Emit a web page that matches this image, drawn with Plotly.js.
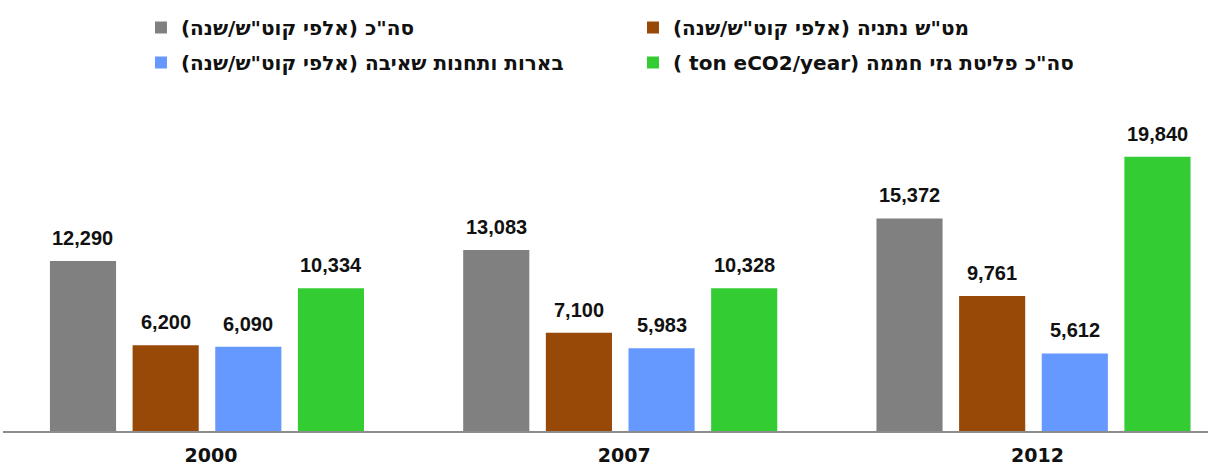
<!DOCTYPE html>
<html>
<head>
<meta charset="utf-8">
<script src="https://cdn.plot.ly/plotly-3.0.1.min.js"></script>
<style>
  html, body { margin: 0; padding: 0; background: #ffffff; }
  #chart { width: 1208px; height: 470px; }
</style>
</head>
<body>
<div id="chart"></div>
<script>
// ---- data ----
var years = ['2000', '2007', '2012'];
var seriesNames = [
  'סה"כ (אלפי קוט"ש/שנה)',
  'מט"ש נתניה (אלפי קוט"ש/שנה)',
  'בארות ותחנות שאיבה (אלפי קוט"ש/שנה)',
  'סה"כ פליטת גזי חממה (ton eCO2/year )'
];
var totalKwh = [12290, 13083, 15372];
var netanyaPlant = [6200, 7100, 9761];
var wellsPumping = [6090, 5983, 5612];
var ghgEmissions = [10334, 10328, 19840];

// ---- style ----
var colors = ['#808080', '#984807', '#6699FF', '#33CC33'];
var legendIds = ['legend', 'legend', 'legend2', 'legend2'];
var seriesValues = [totalKwh, netanyaPlant, wellsPumping, ghgEmissions];

var RLE = '\u202B', PDF = '\u202C';
var barPitchPx = 82.7;

var traces = seriesValues.map(function (vals, i) {
  return {
    type: 'bar',
    x: years,
    y: vals,
    name: RLE + seriesNames[i] + PDF,
    legend: legendIds[i],
    marker: { color: colors[i] },
    hoverinfo: 'skip'
  };
});

function fmt(v) { return v.toLocaleString('en-US'); }

var annotations = [];
seriesValues.forEach(function (vals, i) {
  vals.forEach(function (v, j) {
    annotations.push({
      x: j, y: v, xref: 'x', yref: 'y',
      text: fmt(v), showarrow: false,
      xanchor: 'center', yanchor: 'bottom',
      xshift: (i - 1.5) * barPitchPx, yshift: 10,
      font: { family: 'Liberation Sans, Arial, sans-serif', size: 20, color: '#111111', weight: 'bold' }
    });
  });
});

var legendFont = { family: 'DejaVu Sans, sans-serif', size: 20, color: '#111111', weight: 'bold' };

var layout = {
  width: 1208, height: 470,
  margin: { l: 3, r: 0, t: 100, b: 39 },
  paper_bgcolor: '#ffffff', plot_bgcolor: '#ffffff',
  barmode: 'group', bargap: 0.2, bargroupgap: 0.2,
  showlegend: true,
  legend: {
    orientation: 'h', x: 0.1145, xanchor: 'left', y: 1 + 72.5 / 331, yanchor: 'middle',
    entrywidth: 447, font: legendFont, traceorder: 'normal', bgcolor: 'rgba(0,0,0,0)'
  },
  legend2: {
    orientation: 'h', x: 0.1145, xanchor: 'left', y: 1 + 37.5 / 331, yanchor: 'middle',
    entrywidth: 447, font: legendFont, traceorder: 'normal', bgcolor: 'rgba(0,0,0,0)'
  },
  xaxis: {
    type: 'category', range: [-0.4936, 2.4223],
    showgrid: false, zeroline: false,
    showline: true, linecolor: '#8c8c8c', linewidth: 2,
    ticks: '', ticklabelstandoff: 6, ticklabelshift: 4,
    tickfont: { family: 'DejaVu Sans, sans-serif', size: 19, color: '#111111', weight: 'bold' },
    fixedrange: true
  },
  yaxis: {
    range: [0, 23941], visible: false, showgrid: false, zeroline: false, fixedrange: true
  },
  annotations: annotations
};

Plotly.newPlot('chart', traces, layout, { staticPlot: true, displayModeBar: false });
</script>
</body>
</html>
